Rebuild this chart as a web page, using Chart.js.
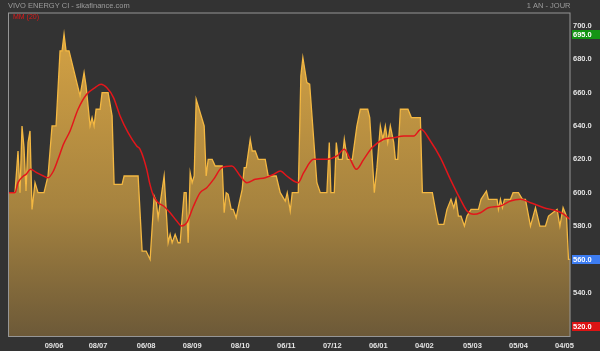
<!DOCTYPE html>
<html>
<head>
<meta charset="utf-8">
<script src="https://cdn.jsdelivr.net/npm/chart.js@4.4.1/dist/chart.umd.min.js"></script>
<style>
  html, body { margin: 0; padding: 0; background: #333333; }
  canvas { display: block; }
</style>
</head>
<body>
<canvas id="priceChart" width="600" height="351"></canvas>
<script>
// trading-day index on the x axis (0 = first session of the year shown)
const priceDays = [0, 3.5, 5, 6, 7, 8, 9, 10, 11, 12, 13.5, 15, 18, 20, 22, 24, 26, 27, 28, 29, 30.5,
  36, 38, 39, 41, 42, 43, 44, 46, 47, 50, 52, 53, 57, 58, 65, 67, 69, 71, 73, 74, 75, 78, 80, 81, 82,
  83.5, 85, 86, 88, 89, 90, 91, 92, 93, 94, 98, 99, 100, 102, 103.5, 107, 108, 109, 110, 111.5, 112.5,
  114, 115, 117, 118, 119, 121, 122, 123.5, 125, 128.5, 130, 134, 136, 138.5, 139.5, 141, 142, 145,
  146.3, 147.3, 149.3, 150.7, 154.3, 156, 159.3, 160.5, 161.3, 163, 164, 165, 167, 168, 169.5, 172,
  174.3, 176, 179.7, 180.7, 182.3, 183, 184.3, 186, 187.3, 188.5, 189.7, 191, 192.7, 193.5, 194.7, 196,
  199.8, 201.5, 206, 207, 212, 213.5, 215, 217.7, 219.3, 221.3, 222.7, 223.8, 225, 226.3, 228, 229.3,
  231.3, 235, 236.3, 239, 240, 244.3, 245, 246, 247, 248, 251, 252.3, 255, 257, 258.5, 261, 263.5,
  265.7, 268.5, 270, 274.3, 275.7, 277.3, 279, 280, 281];
const priceValues = [600, 600, 625, 600, 640, 627, 601, 630, 637, 590, 606, 600, 600, 610, 640, 640, 685, 685, 695, 685, 685,
  658, 672, 664, 640, 645, 640, 650, 650, 660, 660, 646, 605, 605, 610, 610, 565, 565, 560, 598, 595, 585, 610, 570, 575, 570,
  575, 570, 570, 600, 600, 570, 612, 606, 610, 656, 640, 610, 620, 620, 616, 616, 588, 600, 599, 590, 590,
  585, 591, 602, 615, 615, 632, 625, 625, 620, 620, 610, 610, 600, 595, 600, 589, 600, 600,
  670, 681, 666, 665, 606, 600, 600, 630, 600, 600, 630, 620, 620, 632, 620, 620,
  640, 650, 650, 645, 614, 600, 615, 640, 632, 640, 630, 640, 630, 620, 620, 650,
  650, 645, 645, 600, 600, 590, 581, 581, 590, 596, 591, 596, 586, 586, 580, 586,
  590, 590, 596, 601, 596, 596, 590, 596, 591, 596, 596, 600, 600, 596, 596, 580, 591,
  580, 580, 586, 590, 580, 591, 586, 560, 560];

// 20-day moving average
const maDays = [0, 3.5, 5, 7.7, 9, 11.3, 14.3, 17.7, 20, 22.7, 25, 27.7, 31, 35, 39.3, 43.5, 46.5, 49.3,
  52.7, 56, 60, 64.3, 66, 69.3, 70.7, 72.7, 75, 77.7, 81, 84.3, 86.8, 89.3, 92.7, 96, 99.3, 102.7,
  106.8, 111.8, 116, 119.3, 123.5, 128.5, 132.7, 136, 139.3, 142.7, 145, 147.7, 152.7, 159.3, 164.3,
  168, 171, 174, 177.7, 181.8, 187.7, 192.7, 197.7, 202.7, 206.3, 211, 216, 221, 226, 229.3, 232.7,
  236, 240, 246, 251, 256, 261, 267.7, 274.3, 277.7, 280.7];
const maValues = [600, 600, 606, 610, 611, 614, 612, 610, 609, 613, 620, 629, 637, 650, 659, 663, 665, 663,
  657, 646, 636, 628, 626, 614, 606, 598, 594, 592, 588, 583, 580, 582, 592, 600, 603, 608,
  615, 616, 610, 606, 608, 609, 611, 613, 610, 607, 606, 612, 620, 620, 622,
  626, 620, 614, 620, 627, 632, 633, 634, 634, 638, 631, 621, 608, 596, 589, 587,
  588, 591, 592, 595, 596, 594, 591, 589, 587, 584];

const tickDays = [23, 45, 69, 92, 116, 139, 162, 185, 208, 232, 255, 278];
const tickLabels = ['09/06', '08/07', '06/08', '08/09', '08/10', '06/11', '07/12', '06/01', '04/02', '05/03', '05/04', '04/05'];
const yTicks = [520, 540, 560, 580, 600, 620, 640, 660, 680, 700];

// highlighted values on the right axis: high, last, low marker
const tagValues = [695, 560, 520];
const tagColors = ['#149414', '#3d7df2', '#dc1414'];

const title = 'VIVO ENERGY CI - sikafinance.com';
const period = '1 AN - JOUR';
const maLabel = 'MM (20)';

const FONT = '"Liberation Sans", Arial, sans-serif';

const framePlugin = {
  id: 'frame',
  afterDraw(chart) {
    const ctx = chart.ctx;
    const a = chart.chartArea;
    const y = chart.scales.y;
    ctx.save();
    ctx.strokeStyle = '#969696';
    ctx.lineWidth = 1;
    ctx.strokeRect(a.left + 0.5, a.top + 0.5, a.right - a.left - 1, a.bottom - a.top - 1);

    ctx.font = '7.5px ' + FONT;
    ctx.fillStyle = '#9c9c9c';
    ctx.textBaseline = 'middle';
    ctx.textAlign = 'left';
    ctx.fillText(title, 8, 6);
    ctx.textAlign = 'right';
    ctx.fillText(period, a.right, 6);

    ctx.font = '7px ' + FONT;
    ctx.fillStyle = '#e01818';
    ctx.textAlign = 'left';
    ctx.fillText(maLabel, a.left + 5, a.top + 4.5);

    ctx.font = 'bold 7.5px ' + FONT;
    tagValues.forEach(function(v, i) {
      const py = Math.round(y.getPixelForValue(v)) + 0.5;
      ctx.fillStyle = tagColors[i];
      ctx.fillRect(a.right + 1.5, py - 4.5, chart.width - a.right - 1.5, 9);
      ctx.fillStyle = '#ffffff';
      ctx.fillText(v.toFixed(1), a.right + 2.5, py + 0.5);
    });
    ctx.restore();
  }
};

document.addEventListener('DOMContentLoaded', function() {
  const ctx = document.getElementById('priceChart');
  new Chart(ctx, {
    type: 'line',
    data: {
      datasets: [
        {
          label: maLabel,
          data: maDays.map((d, i) => ({ x: d, y: maValues[i] })),
          borderColor: '#e3161b',
          borderWidth: 1.5,
          pointRadius: 0,
          fill: false,
          cubicInterpolationMode: 'monotone',
          order: 0
        },
        {
          label: 'Cours',
          data: priceDays.map((d, i) => ({ x: d, y: priceValues[i] })),
          borderColor: '#f4b842',
          borderWidth: 1.3,
          pointRadius: 0,
          tension: 0,
          fill: 'start',
          backgroundColor: function(c) {
            const a = c.chart.chartArea;
            if (!a) return '#a8864a';
            const g = c.chart.ctx.createLinearGradient(0, a.top, 0, a.bottom);
            g.addColorStop(0, '#d9a544');
            g.addColorStop(0.6, '#a6833f');
            g.addColorStop(1, '#6c5938');
            return g;
          },
          order: 1
        }
      ]
    },
    options: {
      responsive: false,
      animation: false,
      layout: { padding: { left: 8, top: 12.5, right: 0, bottom: 0 } },
      scales: {
        x: {
          type: 'linear',
          min: 0,
          max: 281,
          afterBuildTicks: s => { s.ticks = tickDays.map(v => ({ value: v })); },
          afterFit: s => { s.height = 14; },
          grid: { display: false, drawTicks: false },
          border: { display: false },
          ticks: {
            padding: 4,
            color: '#e4e4e4',
            font: { family: FONT, size: 7.5, weight: 'bold' },
            maxRotation: 0,
            autoSkip: false,
            callback: (v, i) => tickLabels[i]
          }
        },
        y: {
          position: 'right',
          min: 513.5,
          max: 708,
          afterBuildTicks: s => { s.ticks = yTicks.map(v => ({ value: v })); },
          afterFit: s => { s.width = 29.5; },
          grid: { display: false, drawTicks: false },
          border: { display: false },
          ticks: {
            padding: 2.5,
            color: '#e4e4e4',
            font: { family: FONT, size: 7.5, weight: 'bold' },
            callback: v => Number(v).toFixed(1)
          }
        }
      },
      plugins: {
        legend: { display: false },
        tooltip: { enabled: false }
      }
    },
    plugins: [framePlugin]
  });
});
</script>
</body>
</html>
